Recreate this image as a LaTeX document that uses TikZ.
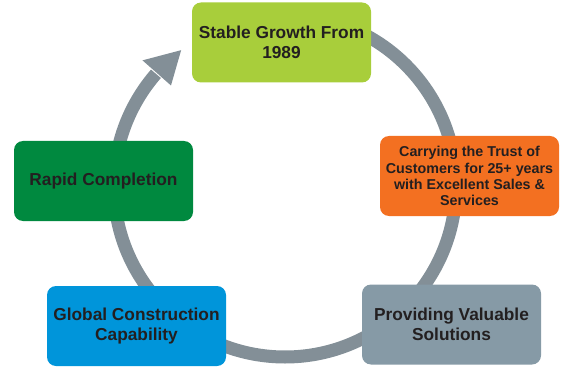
\documentclass[tikz,border=0pt]{standalone}
\usepackage{fontspec}
\setmainfont{Liberation Sans}
\usetikzlibrary{positioning}

\definecolor{limegreen}{HTML}{A8CE3B}
\definecolor{trustorange}{HTML}{F37021}
\definecolor{rapidgreen}{HTML}{00893F}
\definecolor{globalblue}{HTML}{0095DA}
\definecolor{slategray}{HTML}{869AA6}
\definecolor{ringgray}{HTML}{838F97}
\definecolor{textdark}{HTML}{231F20}

\begin{document}
\begin{tikzpicture}
  [x=1pt, y=1pt,
   box/.style={rounded corners=9pt, minimum width=179pt, minimum height=80pt,
     align=center, text=textdark, inner sep=2pt,
     font=\bfseries\fontsize{17.3}{19.5}\selectfont},
   small/.style={font=\bfseries\fontsize{14.3}{16.2}\selectfont},
   ring/.style={draw=ringgray, line width=13pt}]
  \useasboundingbox (0,0) rectangle (564,367);
  \coordinate (hub) at (285,181);
  % the cycle ring with its head
  \draw[ring] ([shift={(90:171)}]hub) arc[start angle=90, end angle=-221, radius=171];
  \fill[ringgray] ([shift={(138.6:190)}]hub) -- ([shift={(127.4:171)}]hub)
     -- ([shift={(138.6:152)}]hub) -- cycle;
  % the five stages
  \node[box, fill=limegreen] (growth) at (281.5,324.5) {Stable Growth From\\1989};
  \node[box, small, fill=trustorange] (trust) at (469.5,191)
     {Carrying the Trust of\\Customers for 25+ years\\with Excellent Sales \&\\Services};
  \node[box, fill=slategray] (solutions) at (451.5,42.5) {Providing Valuable\\Solutions};
  \node[box, fill=globalblue] (global) at (136.5,41) {Global Construction\\Capability};
  \node[box, fill=rapidgreen] (rapid) at (103.5,186) {Rapid Completion};
\end{tikzpicture}
\end{document}
